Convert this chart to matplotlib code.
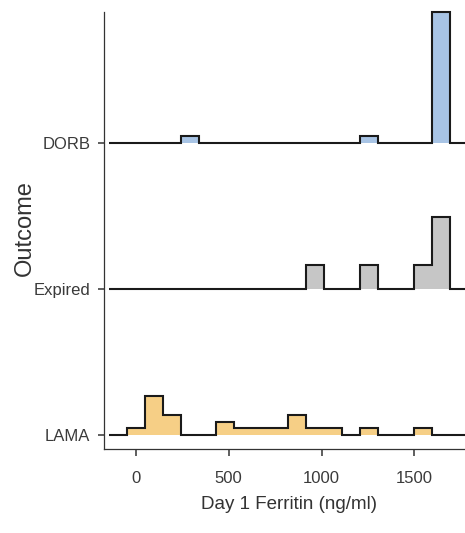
import numpy as np
import matplotlib.pyplot as plt

# binned counts of Day 1 ferritin per outcome (bins of ~96.5 ng/ml, first bin centred on 0)
bin_width = 96.55
first_center = 0.0
outcomes = ['LAMA', 'Expired', 'DORB']
lama_counts = [1, 6, 3, 0, 0, 2, 1, 1, 1, 3, 1, 1, 0, 1, 0, 0, 1, 0]
expired_counts = [0, 0, 0, 0, 0, 0, 0, 0, 0, 0, 1, 0, 0, 1, 0, 0, 1, 3]
dorb_counts = [0, 0, 0, 1, 0, 0, 0, 0, 0, 0, 0, 0, 0, 1, 0, 0, 0, 19]
fill_colors = ['#F6CF86', '#C6C6C6', '#A8C4E5']
xticks = [0, 500, 1000, 1500]

plt.rcParams['font.family'] = ['Liberation Sans', 'DejaVu Sans']

fig = plt.figure(figsize=(4.65, 5.33), dpi=100)
ax = fig.add_axes([0.2237, 0.1576, 0.7763, 0.8199])

scale = 0.99
for i, counts in enumerate([lama_counts, expired_counts, dorb_counts]):
    c = np.array(counts, dtype=float)
    # pad one empty bin either side, like the ridgeline outline does
    c = np.concatenate([[0], c, [0]])
    n = len(c)
    edges = first_center - bin_width / 2 + (np.arange(n + 1) - 1) * bin_width
    base = i + 1
    y = base + c / c.sum() * scale
    ax.stairs(y, edges, baseline=base, fill=True, color=fill_colors[i], lw=0, zorder=2 + i)
    ax.stairs(y, edges, baseline=None, color='#1a1a1a', lw=1.5, zorder=2.5 + i, clip_on=False)

ax.set_xlim(-170.6, 1772)
ax.set_ylim(0.904, 3.895)
ax.set_xticks(xticks)
ax.set_yticks([1, 2, 3])
ax.set_yticklabels(outcomes)

for s in ['top', 'right']:
    ax.spines[s].set_visible(False)
for s in ['left', 'bottom']:
    ax.spines[s].set_color('#333333')
    ax.spines[s].set_linewidth(0.9)

ax.tick_params(axis='x', length=5, width=1.1, color='#333333', pad=11,
               labelsize=12, labelcolor='#3a3a3a')
ax.tick_params(axis='y', length=4, width=1.1, color='#333333', pad=6,
               labelsize=12, labelcolor='#3a3a3a')

ax.set_xlabel('Day 1 Ferritin (ng/ml)', fontsize=13.5, color='#333333')
ax.xaxis.set_label_coords(0.512, -0.108)
ax.set_ylabel('Outcome', fontsize=17, color='#333333')
ax.yaxis.set_label_coords(-0.19, 0.506)

fig.savefig('out.png', dpi=100)
